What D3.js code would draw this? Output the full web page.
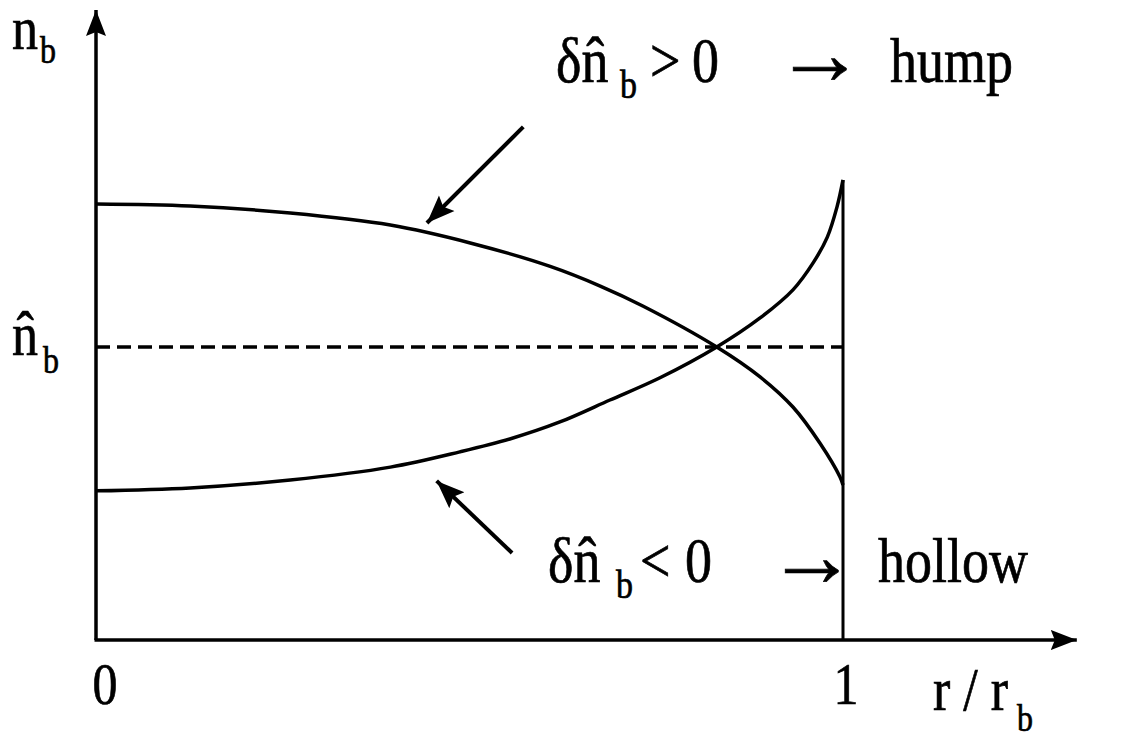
<!DOCTYPE html>
<html>
<head>
<meta charset="utf-8">
<script src="https://cdn.jsdelivr.net/npm/d3@7"></script>
<style>
body { margin: 0; background: #fff; }
text { font-family: "Liberation Serif", "Times New Roman", serif; fill: #000; stroke: #000; stroke-width: 0.6; }
</style>
</head>
<body>
<div id="chart"></div>
<script>
// profile, n in units of n-hat
var rHump = [0, 0.126, 0.26, 0.394, 0.501, 0.608, 0.675, 0.732, 0.831, 0.889, 0.933, 0.969, 0.996, 1];
var nHump = [1.488, 1.481, 1.457, 1.416, 1.355, 1.275, 1.208, 1.140, 1.0, 0.898, 0.795, 0.672, 0.556, 0.529];
var rHollow = [0, 0.126, 0.26, 0.394, 0.487, 0.554, 0.621, 0.688, 0.755, 0.831, 0.889, 0.933, 0.96, 0.979, 0.992, 1];
var nHollow = [0.509, 0.519, 0.546, 0.590, 0.642, 0.686, 0.744, 0.819, 0.895, 1.0, 1.099, 1.195, 1.287, 1.375, 1.478, 1.570];
var nHat = 1;
var xTicks = [0, 1];
// pointer arrows [r0, n0, r1, n1]
var pointers = [[0.572, 1.751, 0.443, 1.423], [0.557, 0.297, 0.456, 0.543]];

var width = 1146, height = 742;
var SY = 1.18; // scanned glyphs are a bit tall

var x = d3.scaleLinear().domain([0, 1]).range([96, 843]);
var y = d3.scaleLinear().domain([0, 2.15]).range([640, 10]);

var svg = d3.select("#chart").append("svg")
    .attr("width", width)
    .attr("height", height);

var defs = svg.append("defs");
defs.append("marker")
    .attr("id", "axhead")
    .attr("markerUnits", "userSpaceOnUse")
    .attr("markerWidth", 28).attr("markerHeight", 22)
    .attr("refX", 26).attr("refY", 11)
    .attr("orient", "auto")
  .append("path")
    .attr("d", "M0,1 L26,11 L0,21 L4,11 Z");
defs.append("marker")
    .attr("id", "ptrhead")
    .attr("markerUnits", "userSpaceOnUse")
    .attr("markerWidth", 30).attr("markerHeight", 24)
    .attr("refX", 28).attr("refY", 12)
    .attr("orient", "auto")
  .append("path")
    .attr("d", "M0,1 L28,12 L0,23 L5,12 Z");

// axes
svg.append("line")
    .attr("x1", x(0)).attr("y1", y(0))
    .attr("x2", x(0)).attr("y2", y(2.15))
    .attr("stroke", "#000").attr("stroke-width", 3.5)
    .attr("marker-end", "url(#axhead)");
svg.append("line")
    .attr("x1", x(0) - 1.5).attr("y1", y(0))
    .attr("x2", x(1.313)).attr("y2", y(0))
    .attr("stroke", "#000").attr("stroke-width", 3.5)
    .attr("marker-end", "url(#axhead)");

// beam edge
svg.append("line")
    .attr("x1", x(1)).attr("y1", y(nHollow[nHollow.length - 1]))
    .attr("x2", x(1)).attr("y2", y(0))
    .attr("stroke", "#000").attr("stroke-width", 3);

// mean density
svg.append("line")
    .attr("x1", x(0)).attr("y1", y(nHat))
    .attr("x2", x(1)).attr("y2", y(nHat))
    .attr("stroke", "#000").attr("stroke-width", 3.5)
    .attr("stroke-dasharray", "14,7");

var line = d3.line()
    .x(function(d) { return x(d[0]); })
    .y(function(d) { return y(d[1]); })
    .curve(d3.curveCatmullRom.alpha(0.5));

svg.append("path")
    .datum(d3.zip(rHump, nHump))
    .attr("d", line)
    .attr("fill", "none").attr("stroke", "#000").attr("stroke-width", 3.5);
svg.append("path")
    .datum(d3.zip(rHollow, nHollow))
    .attr("d", line)
    .attr("fill", "none").attr("stroke", "#000").attr("stroke-width", 3.5);

svg.selectAll(".ptr")
    .data(pointers)
    .enter().append("line")
    .attr("class", "ptr")
    .attr("x1", function(d) { return x(d[0]); })
    .attr("y1", function(d) { return y(d[1]); })
    .attr("x2", function(d) { return x(d[2]); })
    .attr("y2", function(d) { return y(d[3]); })
    .attr("stroke", "#000").attr("stroke-width", 4)
    .attr("marker-end", "url(#ptrhead)");

function txt(px, py, s, size, anchor, sy) {
    return svg.append("text")
        .attr("transform", "translate(" + px + "," + py + ") scale(1," + (sy || SY) + ")")
        .attr("font-size", size)
        .attr("text-anchor", anchor || "start")
        .text(s);
}

// tick labels
xTicks.forEach(function(t) {
    txt(x(t) + (t === 0 ? 9 : 3), 704, String(t), 50, "middle");
});
txt(933, 710, "r / r", 52);
txt(1017, 731, "b", 32);

// y labels
txt(12, 49, "n", 52);
txt(40, 63, "b", 32);
txt(12, 355, "n\u0302", 52);
txt(43, 373, "b", 32);

// annotations
txt(556, 82, "\u03B4n\u0302", 54);
txt(620, 98, "b", 34);
txt(650, 82, ">", 54);
txt(692, 82, "0", 54);
txt(775, 84, "\u2192", 90, "start", 1);
txt(890, 82, "hump", 54);

txt(548, 582, "\u03B4n\u0302", 54);
txt(616, 598, "b", 34);
txt(640, 582, "<", 54);
txt(685, 582, "0", 54);
txt(767, 586, "\u2192", 90, "start", 1);
txt(878, 582, "hollow", 54);
</script>
</body>
</html>
